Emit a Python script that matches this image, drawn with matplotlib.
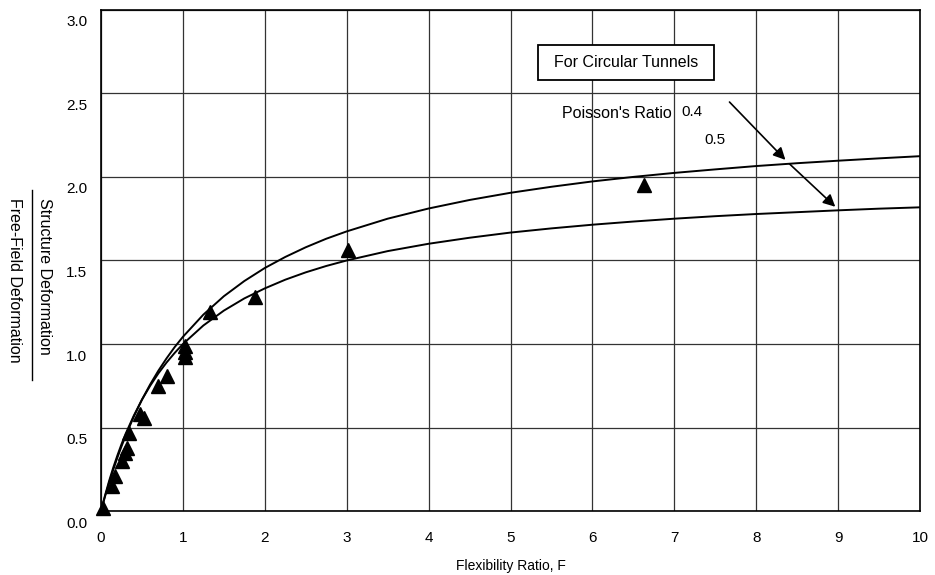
import matplotlib
matplotlib.use('Agg')
import matplotlib.pyplot as plt
import matplotlib.transforms as mtransforms
from matplotlib.patches import Rectangle

plt.rcParams['font.family'] = ['Liberation Sans', 'DejaVu Sans']

# curves
f_curve = [0, 0.025, 0.05, 0.1, 0.15, 0.2, 0.25, 0.3, 0.4, 0.5, 0.6, 0.7, 0.8, 0.9,
           1.0, 1.25, 1.5, 1.75, 2.0, 2.25, 2.5, 2.75, 3.0, 3.5, 4.0, 4.5, 5.0,
           5.5, 6.0, 6.5, 7.0, 7.5, 8.0, 8.5, 9.0, 9.5, 10.0]
ratio_04 = [0, 0.045, 0.089, 0.171, 0.248, 0.32, 0.387, 0.45, 0.565, 0.667, 0.758,
            0.84, 0.914, 0.982, 1.043, 1.176, 1.286, 1.377, 1.455, 1.521, 1.579,
            1.63, 1.674, 1.75, 1.811, 1.862, 1.905, 1.941, 1.973, 2.0, 2.024,
            2.045, 2.065, 2.082, 2.097, 2.111, 2.124]
ratio_05 = [0, 0.049, 0.095, 0.182, 0.261, 0.333, 0.4, 0.462, 0.571, 0.667, 0.75,
            0.824, 0.889, 0.947, 1.0, 1.111, 1.2, 1.273, 1.333, 1.385, 1.429,
            1.467, 1.5, 1.556, 1.6, 1.636, 1.667, 1.692, 1.714, 1.733, 1.75,
            1.765, 1.778, 1.789, 1.8, 1.81, 1.818]

# measured points (triangles)
f_pts = [0.03, 0.13, 0.17, 0.26, 0.29, 0.32, 0.34, 0.48, 0.52, 0.7, 0.8,
         1.02, 1.02, 1.02, 1.33, 1.88, 3.02, 6.63]
r_pts = [0.02, 0.15, 0.21, 0.30, 0.35, 0.38, 0.47, 0.58, 0.56, 0.75, 0.81,
         0.99, 0.95, 0.92, 1.19, 1.28, 1.56, 1.95]

x_ticks = list(range(0, 11))
y_ticks = [0.0, 0.5, 1.0, 1.5, 2.0, 2.5, 3.0]

fig = plt.figure(figsize=(9.35, 5.75), dpi=100)
ax = fig.add_axes([0.108, 0.111, 0.876, 0.872])

ax.plot(f_curve, ratio_04, color='black', linewidth=1.4, zorder=3)
ax.plot(f_curve, ratio_05, color='black', linewidth=1.4, zorder=3)
ax.plot(f_pts, r_pts, linestyle='none', marker='^', color='black',
        markersize=10, zorder=4, clip_on=False)

ax.set_xlim(0, 10)
ax.set_ylim(0, 3.0)
ax.set_xticks(x_ticks)
ax.set_yticks(y_ticks)
ax.set_yticklabels(['%.1f' % v for v in y_ticks])
ax.tick_params(length=0, labelsize=11)
ax.tick_params(axis='x', pad=14)
ax.tick_params(axis='y', pad=10)
# y tick labels sit a little below their grid lines in the original
shift = mtransforms.ScaledTranslation(0, -11 / 100, fig.dpi_scale_trans)
for lbl in ax.get_yticklabels():
    lbl.set_transform(lbl.get_transform() + shift)

ax.grid(True, color='#333333', linewidth=0.9)
ax.set_axisbelow(True)
for s in ax.spines.values():
    s.set_linewidth(1.2)
    s.set_color('black')

ax.set_xlabel('Flexibility Ratio, F', fontsize=10, labelpad=10)

# y label as a fraction, reading downwards
fig.text(0.048, 0.656, 'Structure Deformation', rotation=270, fontsize=11.5,
         ha='center', va='top')
fig.text(0.016, 0.656, 'Free-Field Deformation', rotation=270, fontsize=11.5,
         ha='center', va='top')
fig.add_artist(plt.Line2D([0.034, 0.034], [0.339, 0.670], color='black', linewidth=1.0,
                          transform=fig.transFigure))

ax.add_patch(Rectangle((5.33, 2.58), 2.16, 0.21, facecolor='white', edgecolor='black',
                       linewidth=1.3, zorder=5))
ax.text(6.41, 2.685, 'For Circular Tunnels', fontsize=11.5, ha='center', va='center',
        zorder=6)
ax.text(6.3, 2.38, "Poisson's Ratio", fontsize=11.5, ha='center', va='center')
ax.text(7.21, 2.39, '0.4', fontsize=11, ha='center', va='center')
ax.text(7.49, 2.22, '0.5', fontsize=11, ha='center', va='center')

arrow = dict(arrowstyle='-|>', color='black', linewidth=1.2, mutation_scale=18)
ax.annotate('', xy=(8.38, 2.09), xytext=(7.65, 2.46), arrowprops=arrow, zorder=5)
ax.annotate('', xy=(8.99, 1.81), xytext=(8.38, 2.09), arrowprops=arrow, zorder=5)

fig.savefig('out.png', dpi=100)
